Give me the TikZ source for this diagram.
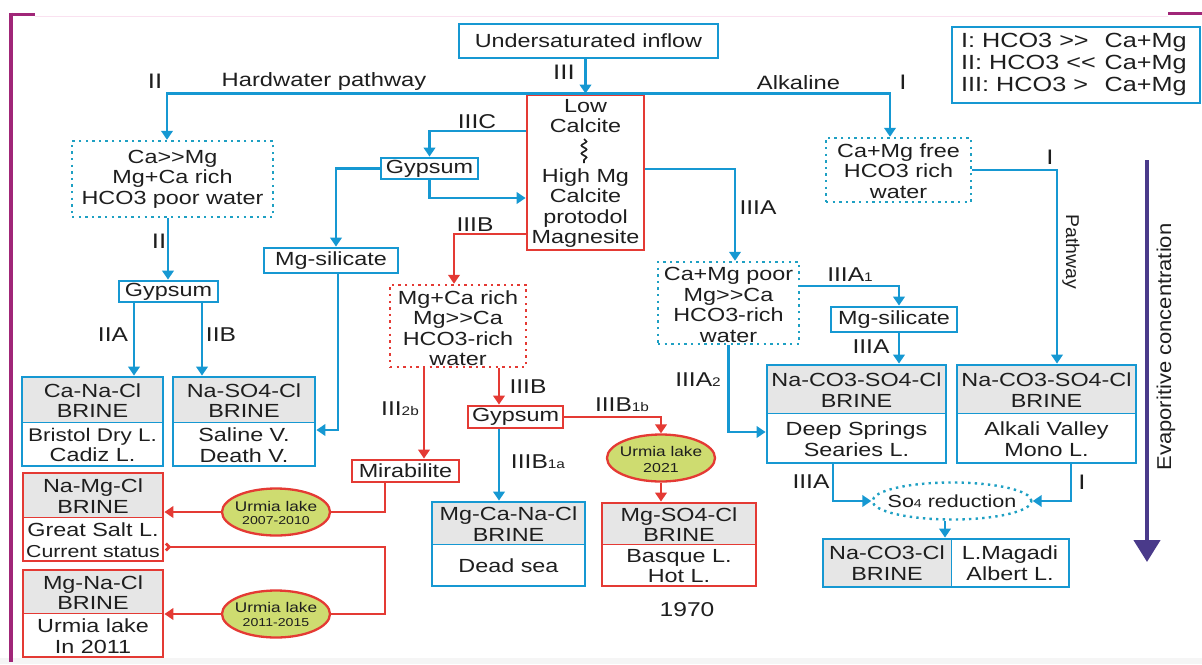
\documentclass[tikz,border=0pt]{standalone}
\usepackage{fontspec}
\setmainfont{Liberation Sans}[FakeStretch=1.23]
\newfontfamily\evfont{Liberation Sans}[FakeStretch=1.1]
\newfontfamily\pwfont{Liberation Sans}[FakeStretch=1.05]
\usetikzlibrary{arrows.meta,shapes.geometric,fit,decorations.pathmorphing}
\definecolor{bl}{RGB}{22,152,210}
\definecolor{tl}{RGB}{30,160,195}
\definecolor{rd}{RGB}{228,58,52}
\definecolor{hg}{RGB}{230,230,230}
\definecolor{elf}{RGB}{206,220,112}
\definecolor{pp}{RGB}{74,58,138}
\definecolor{fr}{RGB}{160,38,120}
\definecolor{txc}{RGB}{30,30,30}
\definecolor{bggray}{RGB}{245,245,245}
\definecolor{pinkline}{RGB}{250,225,240}
\newcommand{\sbs}[1]{{\fontsize{12.5}{12}\selectfont #1}}
\newcommand{\GGt}{>\kern0pt>}
\newcommand{\LLt}{<\kern0pt<}
\newcommand{\fsz}[1]{\fontsize{#1}{#1}\selectfont}
\tikzset{
  tx/.style={font=\fontsize{19}{20.5}\selectfont, align=center, inner sep=0pt, text=txc},
  lb/.style={font=\fontsize{20}{20}\selectfont, inner sep=0pt, text=txc},
  bx/.style={draw, line width=2.8pt, inner sep=0pt},
  dbx/.style={draw, line width=2.4pt, dash pattern=on 2.4pt off 4.2pt, inner sep=0pt},
  ln/.style={line width=2.8pt},
  tip/.style={-{Triangle[length=9pt,width=11.5pt]}},
  ell/.style={ellipse, draw=rd, fill=elf, line width=2.3pt, minimum width=108pt, minimum height=47pt, inner sep=0pt},
}
% name, colour, x1, y1, x2, ysep, y2, header, body
\newcommand{\brinebox}[9]{%
  \fill[hg] (#3,#4) rectangle (#5,#6);
  \draw[#2, line width=1pt] (#3,#6) -- (#5,#6);
  \node[bx, draw=#2, fit={(#3,#4) (#5,#7)}] (#1) {};
  \node[tx] (#1h) at ({(#3+#5)/2},{(#4+#6)/2+1}) {#8};
  \node[tx] (#1b) at ({(#3+#5)/2},{(#6+#7)/2+1}) {#9};
}
\begin{document}
\begin{tikzpicture}[x=1pt,y=-1pt]
\useasboundingbox (0,0) rectangle (1202,664);
\fill[bggray] (0,658) rectangle (1202,664);
% frame
\draw[pinkline, line width=0.8pt] (35,16) -- (1168,16);
\draw[fr, line width=4.5pt] (11,12.5) -- (11,662);
\draw[fr, line width=3pt] (9,14) -- (35,14);
\draw[fr, line width=3pt] (1168,13.5) -- (1202,13.5);

% ---------- boxes ----------
\node[bx, draw=bl, fit={(459,24) (718,58)}] (inflow) {};
\node[tx] (inflowt) at (inflow.center) {Undersaturated inflow};

\node[bx, draw=bl, fit={(952,27) (1200,103)}] (leg) {};
\node[anchor=west, inner sep=0pt, text=txc, font=\fontsize{20.5}{22}\selectfont] (legt) at (961,65)
  {\begin{tabular}{@{}l@{\hspace{9pt}}l@{}}I: HCO3 \GGt & Ca+Mg\\ II: HCO3 \LLt & Ca+Mg\\ III: HCO3 > & Ca+Mg\end{tabular}};

\node[bx, draw=rd, fit={(527,95) (644,250)}] (calc) {};
\node[tx] (calct1) at (585.5,116) {Low\\Calcite};
\node[tx] (calct2) at (585.5,208) {High Mg\\Calcite\\protodol\\Magnesite};
\draw[txc, line width=1.6pt, decorate, decoration={snake, amplitude=2.6pt, segment length=8pt}] (584,139) -- (584,163);

\node[dbx, draw=tl, fit={(72,141) (273,217)}] (hard) {};
\node[tx] (hardt) at (hard.center) {Ca\GGt Mg\\Mg+Ca rich\\HCO3 poor water};

\node[dbx, draw=tl, fit={(826,138) (971,202)}] (alk) {};
\node[tx] (alkt) at (898.5,171) {Ca+Mg free\\HCO3 rich\\water};

\node[bx, draw=bl, fit={(381,158) (478,179)}] (gypC) {};
\node[tx] (gypCt) at (gypC.center) {Gypsum};

\node[bx, draw=bl, fit={(264,248) (398,273)}] (mgsilL) {};
\node[tx] (mgsilLt) at (mgsilL.center) {Mg-silicate};

\node[bx, draw=bl, fit={(119,281) (218,302)}] (gypL) {};
\node[tx] (gypLt) at (gypL.center) {Gypsum};

\brinebox{canacl}{bl}{22}{377}{163}{422}{466}{Ca-Na-Cl\\BRINE}{{\fontsize{18.3}{20.5}\selectfont Bristol Dry L.}\\Cadiz L.}
\brinebox{naso4}{bl}{173}{377}{315}{422}{466}{Na-SO4-Cl\\BRINE}{Saline V.\\Death V.}

\node[dbx, draw=rd, fit={(390,285) (526,367)}] (mgrich) {};
\node[tx] (mgricht) at (458,328) {Mg+Ca rich\\Mg\GGt Ca\\HCO3-rich\\water};

\node[bx, draw=rd, fit={(352,460) (459,482)}] (mirab) {};
\node[tx] (mirabt) at (mirab.center) {Mirabilite};

\node[bx, draw=rd, fit={(468,406) (563,428)}] (gypR) {};
\node[tx] (gypRt) at (gypR.center) {Gypsum};

\node[ell] (e21) at (661,458) {};
\node[inner sep=0pt, text=txc, font=\fsz{14}] (e21a) at (661,451) {Urmia lake};
\node[inner sep=0pt, text=txc, font=\fsz{13}] (e21b) at (661,468) {2021};

\brinebox{mgcana}{bl}{432}{502}{585}{544}{586}{Mg-Ca-Na-Cl\\BRINE}{\raisebox{-4pt}{Dead sea}}
\brinebox{mgso4}{rd}{602}{503}{756}{544}{586}{Mg-SO4-Cl\\BRINE}{Basque L.\\Hot L.}

\brinebox{namgcl}{rd}{23}{473}{163}{517}{561}{Na-Mg-Cl\\BRINE}{Great Salt L.\\{\fontsize{17.3}{19}\selectfont Current status}}
\brinebox{mgnacl}{rd}{23}{570}{163}{613}{657}{Mg-Na-Cl\\BRINE}{Urmia lake\\In 2011}

\node[ell] (e0710) at (276,512) {};
\node[inner sep=0pt, text=txc, font=\fsz{14}] (e0710a) at (276,506) {Urmia lake};
\node[inner sep=0pt, text=txc, font=\fsz{11.5}] (e0710b) at (276,521) {2007-2010};

\node[ell] (e1115) at (276,614) {};
\node[inner sep=0pt, text=txc, font=\fsz{14}] (e1115a) at (276,607) {Urmia lake};
\node[inner sep=0pt, text=txc, font=\fsz{11.5}] (e1115b) at (276,623) {2011-2015};

\node[dbx, draw=tl, fit={(658,262) (799,344)}] (capoor) {};
\node[tx] (capoort) at (728.5,305) {Ca+Mg poor\\Mg\GGt Ca\\HCO3-rich\\water};

\node[bx, draw=bl, fit={(831,307) (957,332)}] (mgsilR) {};
\node[tx] (mgsilRt) at (mgsilR.center) {Mg-silicate};

\brinebox{nacoL}{bl}{767}{365}{946}{413}{463}{Na-CO3-SO4-Cl\\BRINE}{Deep Springs\\Searies L.}
\brinebox{nacoR}{bl}{957}{365}{1136}{413}{463}{Na-CO3-SO4-Cl\\BRINE}{Alkali Valley\\Mono L.}

\node[ellipse, dbx, draw=tl, minimum width=159pt, minimum height=37pt] (so4) at (952,501) {};
\node[inner sep=0pt, text=txc, font=\fsz{17.5}] (so4t) at (952,501) {So{\fsz{11.5}4} reduction};

\fill[hg] (823,539) rectangle (951,587);
\draw[bl, line width=1pt] (951,539) -- (951,587);
\node[bx, draw=bl, fit={(823,539) (1069,587)}] (nacocl) {};
\node[tx] (nacoclh) at (887,563) {Na-CO3-Cl\\BRINE};
\node[tx] (nacoclb) at (1010,563) {L.Magadi\\Albert L.};

% ---------- connectors ----------
\draw[ln, bl, tip] (calc.north) -| ([xshift=-5.5pt]hard.north);
\draw[ln, bl, tip] (calc.north) -| ([xshift=-8.5pt]alk.north);
\draw[ln, bl, tip] (calc.north |- inflow.south) -- (calc.north);

\draw[ln, bl, tip] (hard.south -| 168,0) -- (gypL.north -| 168,0);
\draw[ln, bl, tip] (gypL.south -| 134,0) -- (canacl.north -| 134,0);
\draw[ln, bl, tip] (gypL.south -| 202,0) -- (naso4.north -| 202,0);

\draw[ln, bl, tip] (calc.west |- 0,131) -| (gypC.north);
\draw[ln, bl, tip] (gypC.south) |- (calc.west |- 0,198);
\draw[ln, bl, tip] (gypC.west) -| ([xshift=5pt]mgsilL.north);
\draw[ln, bl, tip] ([xshift=7pt]mgsilL.south) |- (naso4.east |- 0,430);

\draw[ln, rd, tip] (calc.west |- 0,234) -| ([xshift=-4pt]mgrich.north);
\draw[ln, rd, tip] (mgrich.south -| 424,0) -- (mirab.north -| 424,0);
\draw[ln, rd, tip] (mgrich.south -| 499,0) -- (gypR.north -| 499,0);
\draw[ln, rd, tip] (gypR.east) -| (e21.north);
\draw[ln, rd, tip] (e21.south) -- (mgso4.north -| e21.south);
\draw[ln, bl, tip] (gypR.south -| 499,0) -- (mgcana.north -| 499,0);

\draw[ln, rd] (mirab.south -| 385,0) |- (e0710.east);
\draw[ln, rd, tip] (e0710.west) -- (namgcl.east |- e0710.west);
\draw[ln, rd, {Straight Barb[reversed,length=3.5pt,width=7pt]}-] (namgcl.east |- 0,547) -| (e1115.east -| 385,0) -- (e1115.east);
\draw[ln, rd, tip] (e1115.west) -- (mgnacl.east |- e1115.west);

\draw[ln, bl, tip] (calc.east |- 0,169) -| ([xshift=6.5pt]capoor.north);
\draw[ln, bl, tip] (capoor.east |- 0,286) -| ([xshift=5pt]mgsilR.north);
\draw[ln, bl, tip] (mgsilR.south -| 899,0) -- (nacoL.north -| 899,0);
\draw[ln, bl, tip] (capoor.south) |- (nacoL.west |- 0,432);
\draw[ln, bl, tip] (alk.east) -| (nacoR.north -| 1057,0);
\draw[ln, bl, tip] (nacoL.south -| 833,0) |- (so4.west);
\draw[ln, bl, tip] (nacoR.south -| 1071,0) |- (so4.east);
\draw[ln, bl, tip] (so4.south -| 945,0) -- (nacocl.north -| 945,0);

% evaporitive arrow
\coordinate (evtop) at (1147,160);
\coordinate (evbot) at (1147,562);
\draw[pp, line width=4.5pt, -{Triangle[length=22pt,width=26pt]}] (evtop) -- (evbot);
\node[font=\evfont\fontsize{20}{20}\selectfont, text=txc, rotate=90, inner sep=0pt] (evt) at (1166,347) {Evaporitive concentration};

% ---------- labels ----------
\node[lb, font=\fsz{21}] (l1) at (564,72) {III};
\node[lb, font=\fsz{21}] (l2) at (155,81) {II};
\node[lb, font=\fsz{19.3}, anchor=base] (l3) at (324,86) {Hardwater pathway};
\node[lb, font=\fsz{19.3}, anchor=base] (l4) at (798.5,89) {Alkaline};
\node[lb, font=\fsz{21}] (l5) at (903,82) {I};
\node[lb] (l6) at (477,122) {IIIC};
\node[lb] (l7) at (475,225) {IIIB};
\node[lb] (l8) at (758,208) {IIIA};
\node[lb, font=\fsz{21}] (l9) at (159,241) {II};
\node[lb] (l10) at (113,335) {IIA};
\node[lb] (l11) at (221,335) {IIB};
\node[lb] (l12) at (400,409) {III\sbs{2b}};
\node[lb] (l13) at (528,387) {IIIB};
\node[lb] (l14) at (622,405) {IIIB\sbs{1b}};
\node[lb] (l15) at (538,462) {IIIB\sbs{1a}};
\node[lb] (l16) at (698,380) {IIIA\sbs{2}};
\node[lb] (l17) at (850,275) {IIIA\sbs{1}};
\node[lb] (l18) at (871,347) {IIIA};
\node[lb, font=\fsz{21}] (l19) at (1050,157) {I};
\node[font=\pwfont\fontsize{18.5}{18}\selectfont, text=txc, rotate=-90, inner sep=0pt] (l20) at (1071,252) {Pathway};
\node[lb] (l21) at (811,482) {IIIA};
\node[lb, font=\fsz{21}] (l22) at (1082,482) {I};
\node[lb] (l23) at (687,609.5) {1970};
\end{tikzpicture}
\end{document}
